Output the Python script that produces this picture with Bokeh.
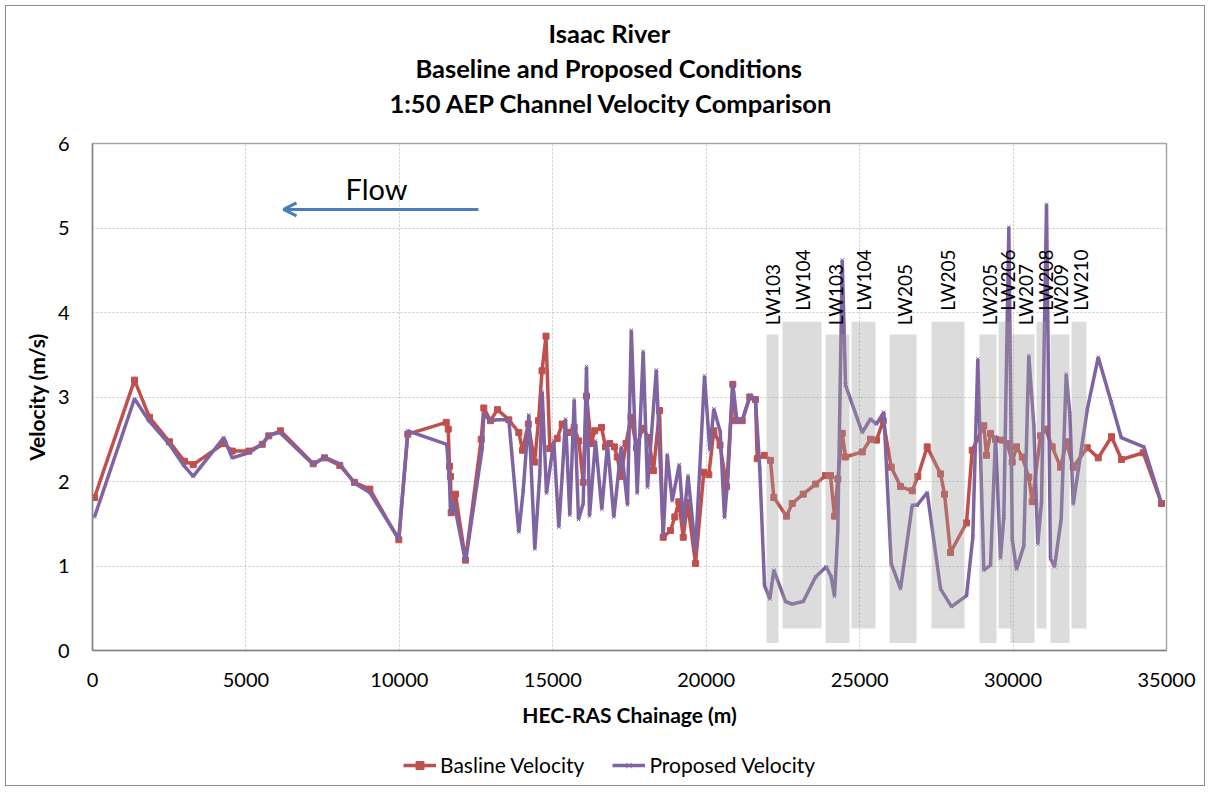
import math
from bokeh.plotting import figure
from bokeh.layouts import column
from bokeh.models import (Label, Arrow, OpenHead, Legend, LegendItem, FixedTicker,
                          ColumnDataSource, Title)
from bokeh.core.properties import value
from bokeh.embed import file_html
from bokeh.resources import INLINE

# ---------------- data ----------------
base_chainage = [65, 1369, 1858, 2509, 2998, 3282, 4279, 4553, 5094, 5530, 5745, 6127,
                 7193, 7561, 8059, 8538, 9037, 9982, 10275, 11527, 11592, 11634, 11667,
                 11690, 11830, 12156, 12668, 12752, 12970, 13198, 13567, 13893, 14013,
                 14202, 14408, 14535, 14649, 14779, 14903, 15144, 15307, 15490, 15698,
                 15848, 15991, 16099, 16252, 16369, 16588, 16718, 16858, 17011, 17099,
                 17223, 17386, 17549, 17728, 17924, 18119, 18282, 18478, 18598, 18836,
                 18977, 19107, 19251, 19391, 19652, 19922, 20085, 20248, 20450, 20665,
                 20867, 20954, 21172, 21420, 21606, 21662, 21900, 22095, 22203, 22617,
                 22803, 23161, 23562, 23888, 24051, 24181, 24289, 24432, 24540, 25084,
                 25355, 25550, 25768, 26029, 26332, 26713, 26896, 27202, 27636, 27766,
                 27961, 28483, 28669, 29048, 29134, 29265, 29428, 29646, 29808, 29972,
                 30112, 30298, 30513, 30624, 30895, 31058, 31276, 31547, 31742, 31960,
                 32416, 32775, 33208, 33534, 34241, 34838]
base_velocity = [1.81, 3.20, 2.76, 2.47, 2.24, 2.20, 2.45, 2.36, 2.36, 2.44, 2.54, 2.60,
                 2.21, 2.28, 2.19, 1.99, 1.91, 1.31, 2.56, 2.70, 2.62, 2.18, 2.06,
                 1.63, 1.85, 1.07, 2.50, 2.87, 2.72, 2.85, 2.73, 2.58, 2.37,
                 2.68, 2.23, 2.72, 3.31, 3.72, 2.39, 2.51, 2.68, 2.58, 2.64,
                 2.48, 1.99, 3.01, 2.45, 2.60, 2.64, 2.41, 2.45, 2.41, 2.29,
                 2.06, 2.45, 2.76, 2.40, 2.63, 2.52, 2.13, 2.84, 1.34, 1.42,
                 1.58, 1.76, 1.34, 1.75, 1.03, 2.11, 2.08, 2.60, 2.43, 1.94,
                 3.15, 2.72, 2.72, 3.00, 2.97, 2.27, 2.31, 2.25, 1.81, 1.59,
                 1.74, 1.85, 1.97, 2.07, 2.07, 1.59, 2.03, 2.57, 2.29, 2.35,
                 2.50, 2.49, 2.72, 2.17, 1.94, 1.89, 2.06, 2.41, 2.09, 1.85,
                 1.16, 1.51, 2.37, 2.66, 2.31, 2.57, 2.50, 2.49, 2.45, 2.23,
                 2.41, 2.29, 2.05, 1.76, 2.54, 2.62, 2.41, 2.17, 2.47, 2.17,
                 2.40, 2.28, 2.53, 2.26, 2.34, 1.74]

prop_chainage = [65, 1369, 1835, 2487, 2975, 3282, 4279, 4553, 5094, 5530, 5745, 6104,
                 7193, 7561, 8059, 8538, 9037, 9982, 10275, 11546, 11634, 11667, 11774,
                 12156, 12700, 12752, 12948, 13189, 13567, 13893, 14036, 14219, 14414,
                 14577, 14655, 14795, 15033, 15196, 15307, 15415, 15555, 15698, 15838,
                 15991, 16099, 16197, 16392, 16598, 16783, 16989, 17230, 17435, 17559,
                 17751, 17947, 18087, 18374, 18599, 18729, 18892, 19120, 19260, 19407,
                 19651, 19945, 20117, 20248, 20456, 20596, 20710, 20863, 21010, 21173,
                 21430, 21606, 21746, 21900, 22073, 22203, 22584, 22802, 23161, 23562,
                 23910, 24073, 24181, 24289, 24432, 24540, 25084, 25355, 25550, 25788,
                 26029, 26332, 26713, 26876, 27202, 27636, 27994, 28483, 28688, 28851,
                 29047, 29265, 29428, 29591, 29699, 29862, 29972, 30112, 30350, 30513,
                 30676, 30806, 30927, 31090, 31220, 31351, 31569, 31732, 31850, 31960,
                 32416, 32775, 33198, 33524, 34261, 34838]
prop_velocity = [1.58, 2.98, 2.72, 2.45, 2.19, 2.06, 2.52, 2.28, 2.34, 2.44, 2.55, 2.58,
                 2.20, 2.29, 2.21, 1.98, 1.87, 1.32, 2.60, 2.44, 2.01, 1.62, 1.76,
                 1.05, 2.39, 2.80, 2.72, 2.73, 2.73, 1.40, 1.89, 2.79, 1.20,
                 2.09, 3.06, 1.86, 2.48, 1.46, 2.07, 2.74, 1.60, 2.97, 1.55,
                 1.74, 3.36, 1.59, 2.48, 1.67, 2.44, 1.58, 2.41, 1.72, 3.79,
                 1.86, 3.54, 1.93, 3.32, 1.35, 2.32, 1.77, 2.20, 1.50, 2.07,
                 1.18, 3.25, 2.37, 2.86, 2.59, 1.57, 2.07, 3.16, 2.70, 2.72,
                 3.02, 2.97, 2.15, 0.77, 0.61, 0.95, 0.58, 0.55, 0.58, 0.87,
                 0.99, 0.87, 0.64, 1.42, 4.62, 3.14, 2.58, 2.74, 2.68, 2.82,
                 1.03, 0.73, 1.72, 1.72, 1.87, 0.73, 0.52, 0.65, 1.34, 3.45,
                 0.95, 1.01, 2.53, 1.09, 1.58, 5.01, 1.32, 0.96, 1.24, 3.49,
                 2.66, 1.26, 1.76, 5.28, 1.09, 0.99, 1.56, 3.27, 2.80, 1.73,
                 2.85, 3.47, 2.94, 2.52, 2.41, 1.74]

lw_names = ["LW103", "LW104", "LW103", "LW104", "LW205", "LW205",
            "LW205", "LW206", "LW207", "LW208", "LW209", "LW210"]
lw_start = [21965, 22486, 23888, 24735, 25974, 27342, 28906, 29526, 29917, 30764, 31220, 31905]
lw_end = [22356, 23757, 24670, 25517, 26853, 28418, 29460, 29950, 30699, 31090, 31840, 32394]
lw_bottom = [0.09, 0.26, 0.09, 0.26, 0.09, 0.26, 0.09, 0.26, 0.09, 0.26, 0.09, 0.26]
lw_top = [3.74, 3.89, 3.74, 3.89, 3.74, 3.89, 3.74, 3.89, 3.74, 3.89, 3.74, 3.89]
lw_label_x = [22161, 23138, 24214, 25126, 26462, 27864, 29232, 29819, 30406, 31058, 31546, 32198]
lw_label_y = [3.85, 4.02, 3.85, 4.02, 3.85, 4.02, 3.85, 4.02, 3.85, 4.02, 3.85, 4.02]

x_ticks = [0, 5000, 10000, 15000, 20000, 25000, 30000, 35000]
y_ticks = [0, 1, 2, 3, 4, 5, 6]

title_lines = ["Isaac River", "Baseline and Proposed Conditions",
               "1:50 AEP Channel Velocity Comparison"]
series_names = ["Basline Velocity", "Proposed Velocity"]

RED = "#c0504d"
PURPLE = "#8064a2"
FONT = "Lato"
TITLE_PX = "25.5px"

p = figure(width=1210, height=742, x_range=(0, 35000), y_range=(0, 6),
           output_backend="svg", toolbar_location=None,
           min_border_left=92, min_border_right=44, min_border_top=143,
           min_border_bottom=92)
p.border_fill_alpha = 0

# title lines: p.title is outermost, added titles stack outward from the frame
p.title.text = title_lines[0]
p.title.align = "left"
p.title.offset = 456
p.title.text_font = FONT
p.title.text_font_size = TITLE_PX
p.title.text_font_style = "bold"
p.title.text_color = "#000000"
p.title.standoff = 4
p.add_layout(Title(text=" ", text_font_size="1px", standoff=21), "above")
for t, off in ((title_lines[2], 297), (title_lines[1], 323)):
    p.add_layout(Title(text=t, align="left", offset=off, text_font=FONT,
                       text_font_size=TITLE_PX, text_font_style="bold",
                       text_color="#000000", standoff=3),
                 "above")

# grid / axes
p.xgrid.grid_line_color = "#c8c8c8"
p.ygrid.grid_line_color = "#c8c8c8"
p.xgrid.grid_line_dash = "2 2"
p.ygrid.grid_line_dash = "2 2"
p.outline_line_color = "#a6a6a6"
p.outline_line_width = 1.5

p.xaxis.ticker = FixedTicker(ticks=x_ticks)
p.yaxis.ticker = FixedTicker(ticks=y_ticks)
for ax in (p.xaxis[0], p.yaxis[0]):
    ax.major_tick_line_color = None
    ax.minor_tick_line_color = None
    ax.axis_line_color = "#868686"
    ax.axis_line_width = 1.5
    ax.major_label_text_font = FONT
    ax.major_label_text_font_size = "20px"
    ax.major_label_text_color = "#000000"
    ax.axis_label_text_font = FONT
    ax.axis_label_text_font_size = "21px"
    ax.axis_label_text_font_style = "bold"
    ax.axis_label_text_color = "#000000"
p.xaxis.axis_label = "HEC-RAS Chainage (m)"
p.yaxis.axis_label = "Velocity (m/s)"
p.xaxis.major_label_standoff = 16
p.xaxis.axis_label_standoff = 12
p.yaxis.major_label_standoff = 17
p.yaxis.axis_label_standoff = 6

# series
p.line(base_chainage, base_velocity, line_color=RED, line_width=3.5)
p.scatter(base_chainage, base_velocity, marker="square", size=6,
          fill_color=RED, line_color=RED)
p.line(prop_chainage, prop_velocity, line_color=PURPLE, line_width=3.5)
p.scatter(prop_chainage, prop_velocity, marker="x", size=5,
          line_color=PURPLE, line_width=1)

# longwall bars (semi-transparent, drawn over the lines)
p.quad(left=lw_start, right=lw_end, bottom=lw_bottom, top=lw_top,
       fill_color="#9e9e9e", fill_alpha=0.36, line_color=None)

src = ColumnDataSource(dict(x=lw_label_x, y=lw_label_y, t=lw_names))
p.text(x="x", y="y", text="t", source=src, angle=math.pi / 2,
       text_align="left", text_baseline="middle",
       text_font=value(FONT), text_font_size="19px", text_color="#000000")

# flow annotation
p.add_layout(Arrow(end=OpenHead(size=13, line_color="#4a7ebb", line_width=3),
                   x_start=12579, y_start=5.22, x_end=6225, y_end=5.22,
                   line_color="#4a7ebb", line_width=3))
p.add_layout(Label(x=9255, y=5.47, text="Flow", text_align="center",
                   text_baseline="middle", text_font=FONT,
                   text_font_size="29px", text_color="#000000"))

# legend strip (separate small figure below the chart)
lg = figure(width=1210, height=49, x_range=(0, 1), y_range=(0, 1),
            output_backend="svg", toolbar_location=None,
            x_axis_type=None, y_axis_type=None,
            min_border_left=0, min_border_right=0, min_border_top=0,
            min_border_bottom=0)
lg.grid.visible = False
lg.outline_line_color = None
lg.border_fill_alpha = 0
lg.background_fill_alpha = 0
hidden = dict(x=[-5.0, -4.0], y=[-5.0, -5.0])
l1 = lg.line(x="x", y="y", source=ColumnDataSource(hidden), line_color=RED, line_width=3.5)
m1 = lg.scatter(x="x", y="y", source=ColumnDataSource(hidden), marker="square", size=6,
                fill_color=RED, line_color=RED)
l2 = lg.line(x="x", y="y", source=ColumnDataSource(hidden), line_color=PURPLE, line_width=3.5)
m2 = lg.scatter(x="x", y="y", source=ColumnDataSource(hidden), marker="x", size=5,
                line_color=PURPLE, line_width=1)
legend = Legend(items=[LegendItem(label=series_names[0], renderers=[l1, m1], index=0),
                       LegendItem(label=series_names[1], renderers=[l2, m2], index=0)],
                orientation="horizontal", location=(311, 14),
                border_line_color=None, background_fill_alpha=0,
                padding=0, margin=0, spacing=28, glyph_width=33,
                label_standoff=4, label_text_font=FONT,
                label_text_font_size="21px", label_text_color="#000000")
lg.add_layout(legend, "center")

layout = column(p, lg, spacing=0)
layout.styles = {"background-color": "#ffffff",
                 "box-shadow": "inset 0 0 0 1px #ffffff, inset 0 0 0 2px #ffffff, "
                               "inset 0 0 0 3px #ffffff, inset 0 0 0 4px #ffffff, "
                               "inset 0 0 0 5px #ffffff, inset 0 0 0 6px #8c8c8c"}

open("out.html", "w").write(file_html(layout, INLINE))
